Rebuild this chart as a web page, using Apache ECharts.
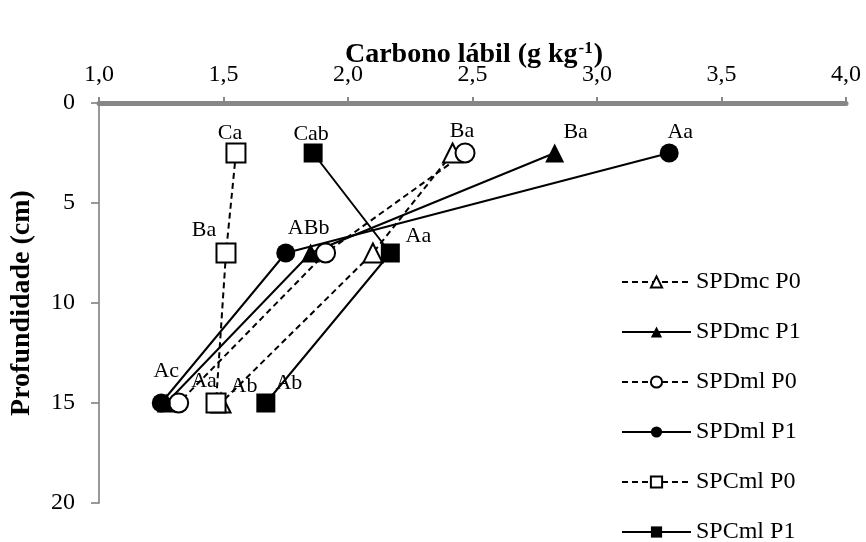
<!DOCTYPE html>
<html>
<head>
<meta charset="utf-8">
<script src="https://cdn.jsdelivr.net/npm/echarts@6/dist/echarts.min.js"></script>
<style>
  html, body { margin: 0; padding: 0; background: #fff; }
  #chart { width: 866px; height: 542px; }
</style>
</head>
<body>
<div id="chart"></div>
<script>
// Sampling depths (cm)
const depths = [2.5, 7.5, 15];
const xTicks = ['1,0', '1,5', '2,0', '2,5', '3,0', '3,5', '4,0'];

// Labile carbon (g kg-1) per treatment, one value per depth
const spdmcP0 = [2.42, 2.10, 1.49];
const spdmcP1 = [2.83, 1.85, 1.27];
const spdmlP0 = [2.47, 1.91, 1.32];
const spdmlP1 = [3.29, 1.75, 1.25];
const spcmlP0 = [1.55, 1.51, 1.47];
const spcmlP1 = [1.86, 2.17, 1.67];

// Significance letters per point ('' = none)
const lettersSpdmcP0 = ['', '', 'Ab'];
const lettersSpdmcP1 = ['Ba', 'ABb', ''];
const lettersSpdmlP0 = ['Ba', '', ''];
const lettersSpdmlP1 = ['Aa', '', 'Ac'];
const lettersSpcmlP0 = ['Ca', 'Ba', 'Aa'];
const lettersSpcmlP1 = ['Cab', 'Aa', 'Ab'];

// Pixel offsets of each letter from its marker centre
const letterOffsets = {
  spdmcP0: [[0, 0], [0, 0], [23, -17]],
  spdmcP1: [[21, -21], [-2, -25], [0, 0]],
  spdmlP0: [[-3, -22], [0, 0], [0, 0]],
  spdmlP1: [[11, -21], [0, 0], [5, -32]],
  spcmlP0: [[-6, -20], [-22, -23], [-12, -22]],
  spcmlP1: [[-2, -19], [28, -17], [23, -20]]
};

const FONT = '"Liberation Serif", "Times New Roman", serif';

function makeSeries(name, values, letters, offsets, symbol, dashed) {
  return {
    name: name,
    type: 'line',
    symbol: symbol,
    symbolSize: 19,
    showSymbol: true,
    color: '#000',
    lineStyle: { color: '#000', width: 2, type: dashed ? [6, 4] : 'solid' },
    itemStyle: { color: '#000', borderWidth: 1.5 },
    emphasis: { disabled: true },
    animation: false,
    data: values.map((v, i) => ({
      value: [v, depths[i]],
      label: {
        show: letters[i] !== '',
        formatter: letters[i],
        position: 'inside',
        offset: offsets[i],
        color: '#000',
        fontFamily: FONT,
        fontSize: 22
      }
    }))
  };
}

const chart = echarts.init(document.getElementById('chart'), null, { renderer: 'canvas' });

chart.setOption({
  backgroundColor: '#fff',
  animation: false,
  title: {
    text: 'Carbono lábil (g kg{sup|-1})',
    left: 474,
    textAlign: 'center',
    top: 40,
    padding: 0,
    textStyle: {
      fontFamily: FONT,
      fontWeight: 'bold',
      fontSize: 28,
      color: '#000',
      rich: {
        sup: { fontFamily: FONT, fontWeight: 'bold', fontSize: 17, color: '#000', verticalAlign: 'top', padding: [0, 1, 12, 1] }
      }
    }
  },
  grid: { left: 98, right: 20, top: 103, bottom: 39 },
  legend: {
    orient: 'vertical',
    left: 621,
    top: 270,
    height: 300,
    padding: 0,
    itemWidth: 69,
    itemHeight: 14,
    itemGap: 26,
    textStyle: { fontFamily: FONT, fontSize: 24, color: '#000' },
    data: ['SPDmc P0', 'SPDmc P1', 'SPDml P0', 'SPDml P1', 'SPCml P0', 'SPCml P1']
  },
  xAxis: {
    type: 'value',
    position: 'top',
    min: 1,
    max: 4,
    interval: 0.5,
    splitLine: { show: false },
    axisLine: { show: true, lineStyle: { color: '#878787', width: 5 } },
    axisTick: { show: true, length: 6, lineStyle: { color: '#878787', width: 2 } },
    axisLabel: {
      margin: 16,
      fontFamily: FONT,
      fontSize: 24,
      color: '#000',
      formatter: (v) => xTicks[Math.round((v - 1) / 0.5)]
    }
  },
  yAxis: {
    type: 'value',
    inverse: true,
    min: 0,
    max: 20,
    interval: 5,
    name: 'Profundidade (cm)',
    nameLocation: 'middle',
    nameGap: 63,
    nameTextStyle: { fontFamily: FONT, fontWeight: 'bold', fontSize: 28, color: '#000' },
    splitLine: { show: false },
    axisLine: { show: true, onZero: false, lineStyle: { color: '#878787', width: 1.7 } },
    axisTick: { show: true, length: 8, lineStyle: { color: '#878787', width: 1.7 } },
    axisLabel: { margin: 24, fontFamily: FONT, fontSize: 24, color: '#000' }
  },
  series: [
    makeSeries('SPDmc P0', spdmcP0, lettersSpdmcP0, letterOffsets.spdmcP0, 'emptyTriangle', true),
    makeSeries('SPDmc P1', spdmcP1, lettersSpdmcP1, letterOffsets.spdmcP1, 'triangle', false),
    makeSeries('SPDml P0', spdmlP0, lettersSpdmlP0, letterOffsets.spdmlP0, 'emptyCircle', true),
    makeSeries('SPDml P1', spdmlP1, lettersSpdmlP1, letterOffsets.spdmlP1, 'circle', false),
    makeSeries('SPCml P0', spcmlP0, lettersSpcmlP0, letterOffsets.spcmlP0, 'emptyRect', true),
    makeSeries('SPCml P1', spcmlP1, lettersSpcmlP1, letterOffsets.spcmlP1, 'rect', false)
  ]
});
</script>
</body>
</html>
